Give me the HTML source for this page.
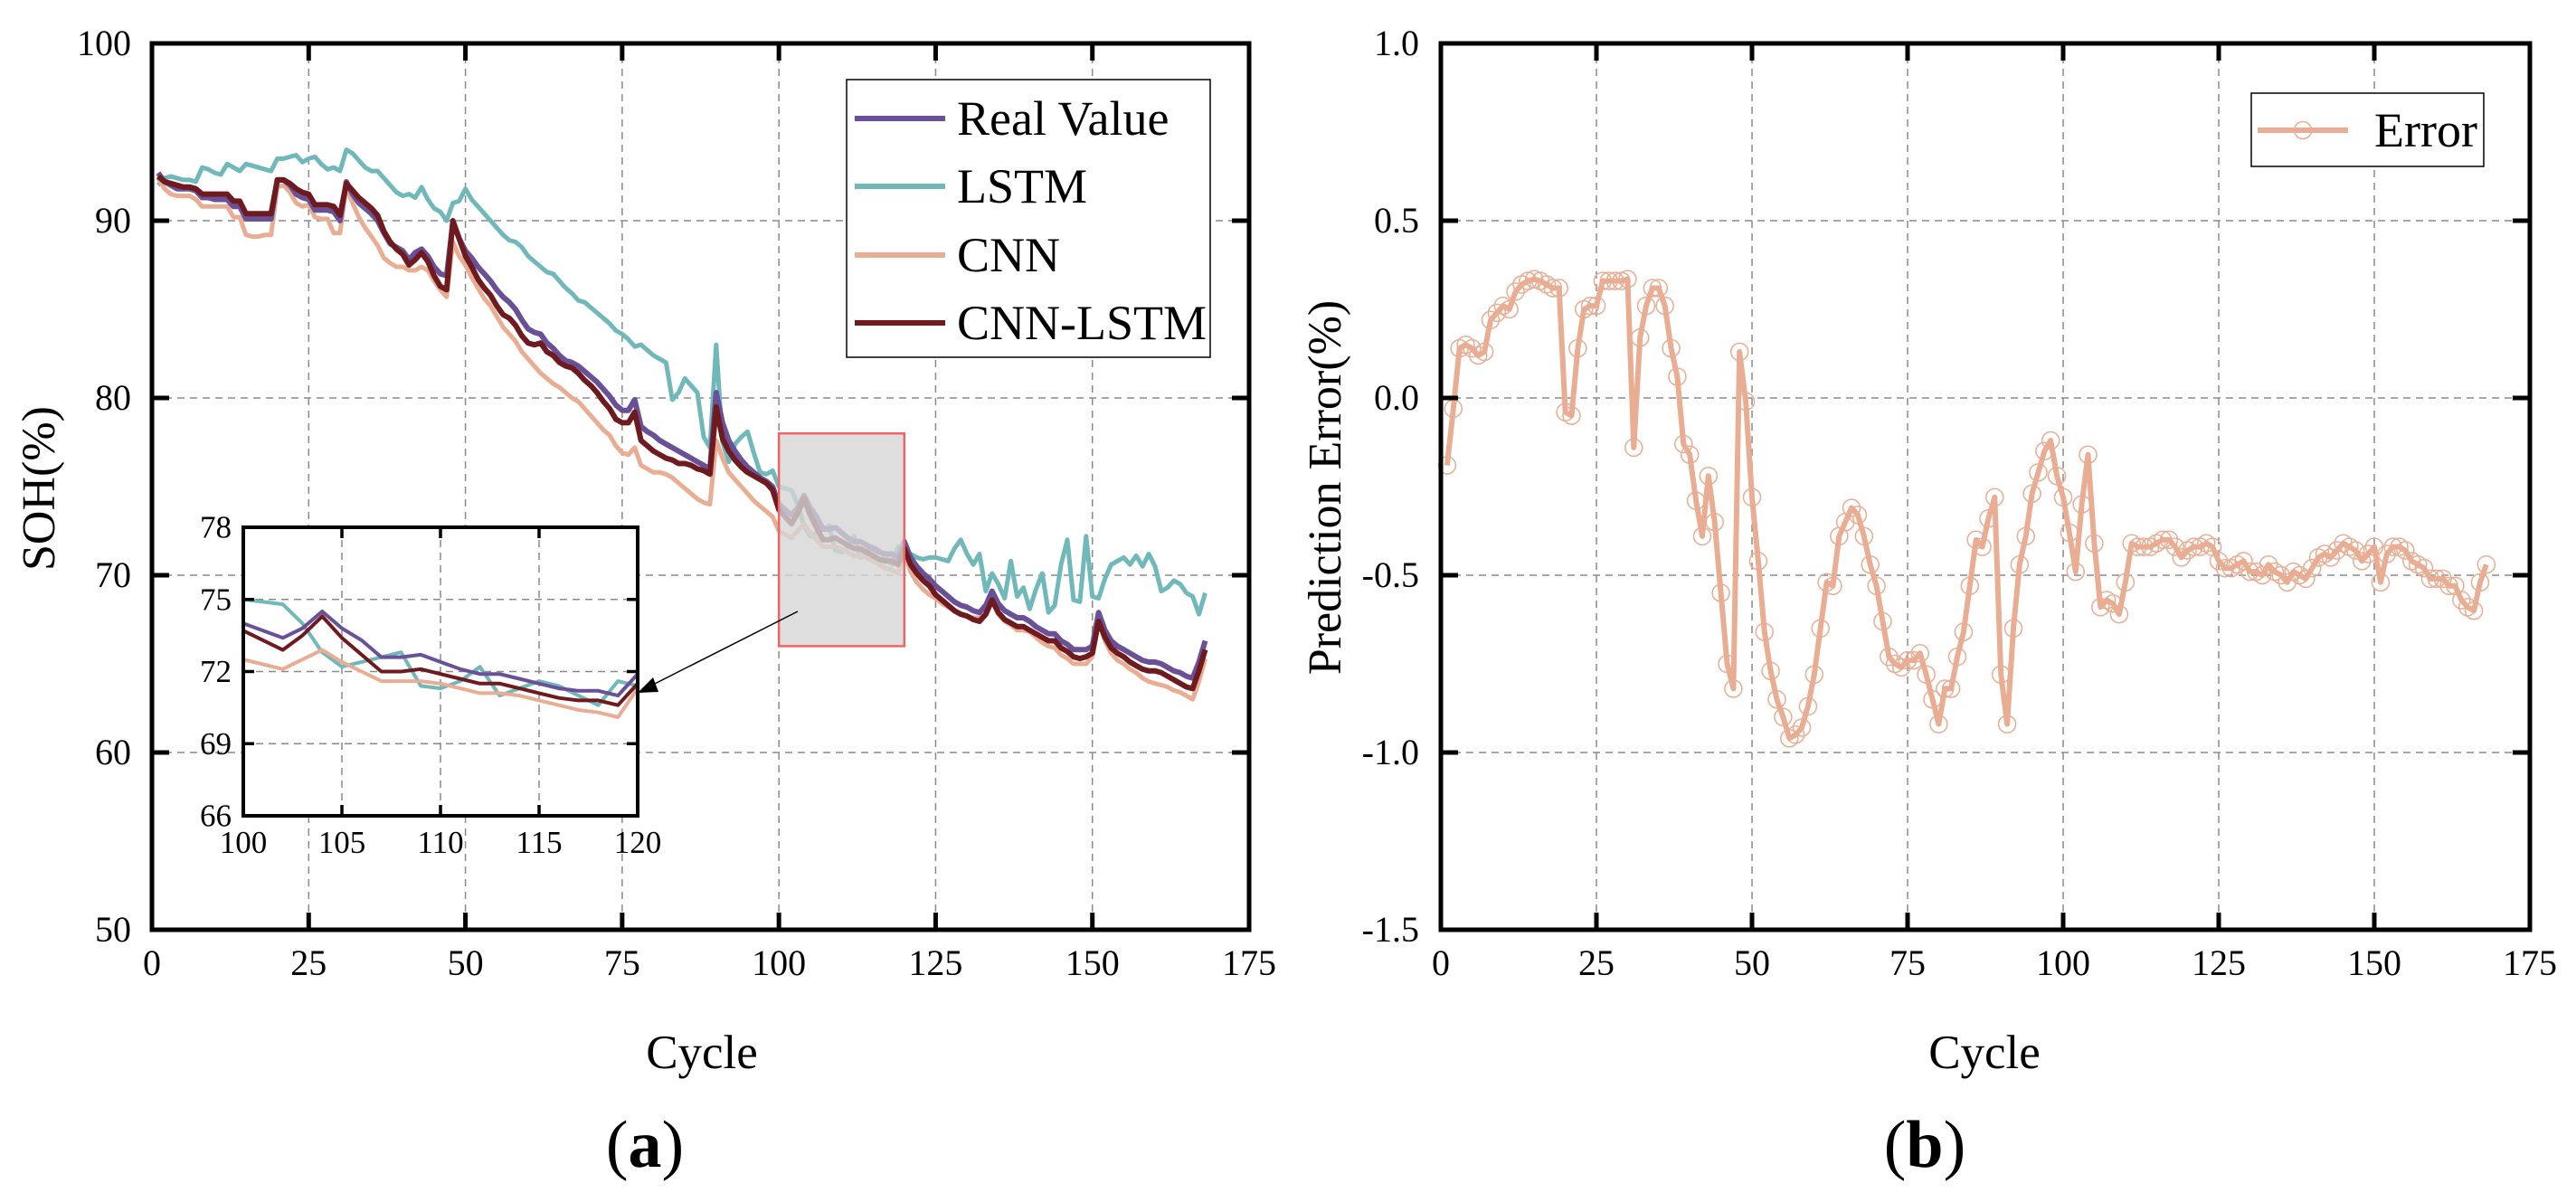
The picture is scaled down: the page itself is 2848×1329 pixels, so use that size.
<!DOCTYPE html>
<html><head><meta charset="utf-8"><style>
html,body{margin:0;padding:0;background:#fff;}
svg{display:block;font-family:"Liberation Serif",serif;}
</style></head><body>
<svg id="fig" width="2848" height="1329" viewBox="0 0 2848 1329" xmlns="http://www.w3.org/2000/svg">
<defs>
<clipPath id="clipA"><rect x="168" y="48" width="1213" height="980"/></clipPath>
<clipPath id="clipIn"><rect x="269" y="583" width="436" height="319"/></clipPath>
<clipPath id="clipB"><rect x="1593" y="48" width="1204" height="980"/></clipPath>
</defs>
<g id="gA"></g>
<g id="gB"></g>
</svg>
<script>
const cycles = Array.from({length:168},(_,i)=>i+1);
const realValue = [92.7,92.2,92.0,91.8,91.8,91.8,91.7,91.3,91.3,91.2,
91.2,91.2,90.8,90.8,90.1,90.1,90.1,90.1,90.1,92.3,
92.3,92.0,91.5,91.3,91.2,90.6,90.6,90.6,90.5,90.0,
92.2,91.5,91.0,90.7,90.4,90.0,89.3,88.7,88.5,88.3,
87.8,88.2,88.4,88.0,87.4,87.0,86.9,89.9,89.0,88.3,
87.9,87.4,87.0,86.6,86.1,85.7,85.4,85.0,84.4,83.9,
83.7,83.6,83.1,82.8,82.4,82.1,82.0,81.8,81.5,81.2,
80.9,80.5,80.1,79.6,79.3,79.3,79.9,78.4,78.1,77.9,
77.6,77.4,77.2,77.0,76.8,76.6,76.4,76.2,76.0,80.3,
78.6,77.6,77.0,76.5,76.1,75.8,75.5,75.3,75.0,74.0,
73.7,73.4,73.8,74.5,73.8,73.3,72.6,72.6,72.7,72.4,
72.1,71.9,71.9,71.7,71.5,71.3,71.2,71.2,71.0,71.9,
71.0,70.5,70.1,69.8,69.4,69.1,68.8,68.5,68.3,68.2,
68.0,67.9,68.3,69.1,68.4,68.0,67.8,67.6,67.6,67.4,
67.1,66.9,66.7,66.7,66.3,66.1,65.8,65.8,65.8,66.0,
67.9,66.9,66.3,66.0,65.8,65.6,65.4,65.2,65.1,65.1,
65.0,64.8,64.6,64.5,64.3,64.2,65.1,66.3];
const lstmValues = [92.0,92.4,92.5,92.4,92.3,92.3,92.2,93.0,92.9,92.7,
92.6,93.2,93.0,92.8,93.2,93.1,93.0,92.9,92.8,93.5,
93.5,93.6,93.7,93.3,93.5,93.6,93.2,92.9,93.0,92.8,
94.0,93.8,93.4,93.0,92.8,92.8,92.4,92.0,91.6,91.4,
91.5,91.3,91.9,91.2,90.7,90.5,90.0,91.0,91.1,91.8,
91.2,90.8,90.4,90.0,89.6,89.2,88.9,88.8,88.5,88.0,
87.7,87.4,87.1,87.0,86.6,86.2,85.9,85.5,85.4,85.1,
84.8,84.5,84.2,83.8,83.6,83.3,82.9,83.0,82.7,82.4,
82.2,82.0,79.9,80.3,81.1,80.7,80.3,77.8,77.2,83.0,
77.5,76.4,77.4,77.8,78.1,76.9,75.8,75.7,75.9,75.0,
74.9,74.8,74.0,72.8,72.2,72.4,72.6,72.8,71.4,71.3,
71.6,72.2,71.0,71.3,71.6,71.4,71.0,70.6,71.6,71.4,
71.2,71.0,70.9,71.0,71.0,70.9,70.8,71.5,72.0,71.2,
70.6,71.2,69.1,70.1,69.5,68.7,70.8,68.8,69.3,68.1,
69.2,70.1,67.9,68.3,70.6,72.0,68.6,68.5,72.2,68.8,
68.7,69.8,70.6,70.8,71.0,70.6,71.1,70.5,71.2,70.5,
69.1,69.3,69.7,69.5,69.0,68.8,67.8,69.0];
const cnnValues = [92.4,91.8,91.5,91.4,91.4,91.4,91.2,90.8,90.8,90.8,
90.8,90.8,90.2,90.2,89.2,89.1,89.1,89.2,89.2,91.9,
92.0,91.6,91.0,90.8,90.9,90.2,90.1,90.1,89.3,89.3,
91.9,91.0,90.2,89.6,89.1,88.6,87.9,87.6,87.4,87.4,
87.2,87.2,87.4,87.2,86.6,86.1,85.7,88.8,88.0,87.5,
86.8,86.2,85.6,85.2,84.6,84.0,83.6,83.2,82.6,82.2,
81.8,81.4,81.1,80.8,80.6,80.3,80.0,79.8,79.4,79.0,
78.6,78.2,77.9,77.3,76.9,76.8,77.2,76.2,76.0,75.8,
75.8,75.7,75.5,75.2,74.9,74.6,74.3,74.1,74.0,77.6,
76.6,75.8,75.4,75.0,74.6,74.2,73.9,73.6,73.3,72.5,
72.3,72.1,72.5,72.9,72.4,72.0,71.6,71.6,71.6,71.5,
71.3,71.1,71.1,71.0,70.8,70.6,70.4,70.3,70.1,71.3,
70.2,69.6,69.2,68.9,68.7,68.4,68.2,68.0,67.8,67.7,
67.6,67.6,67.8,68.5,67.8,67.4,67.2,66.9,66.9,66.8,
66.5,66.2,66.0,65.9,65.5,65.3,65.0,65.0,65.0,65.4,
67.5,66.3,65.6,65.2,65.0,64.7,64.5,64.2,64.0,63.9,
63.8,63.7,63.5,63.4,63.2,63.0,64.0,65.3];
const cnnLstmValues = [92.5,92.2,92.1,92.0,91.9,91.9,91.8,91.5,91.5,91.5,
91.5,91.5,91.1,91.1,90.4,90.4,90.4,90.4,90.4,92.3,
92.3,92.1,91.8,91.6,91.5,90.9,90.9,90.9,90.8,90.3,
92.1,91.7,91.3,91.0,90.7,90.3,89.4,88.8,88.4,88.1,
87.5,87.8,88.2,87.7,86.9,86.3,86.1,90.0,89.0,88.0,
87.4,86.7,86.2,85.8,85.2,84.7,84.5,84.1,83.5,83.1,
83.0,83.1,82.6,82.4,82.0,81.8,81.7,81.4,81.0,80.7,
80.3,79.8,79.4,78.8,78.6,78.6,79.2,77.6,77.3,77.0,
76.8,76.6,76.5,76.3,76.3,76.2,76.0,75.9,75.7,79.5,
77.7,77.0,76.5,76.1,75.8,75.6,75.4,75.2,74.8,73.7,
73.3,72.9,73.5,74.3,73.4,72.7,72.0,72.0,72.1,71.9,
71.7,71.5,71.5,71.3,71.1,70.9,70.8,70.8,70.6,71.5,
70.6,70.1,69.7,69.4,68.9,68.6,68.3,68.0,67.8,67.7,
67.5,67.4,67.8,68.6,67.9,67.5,67.3,67.1,67.1,66.9,
66.7,66.5,66.3,66.3,65.9,65.7,65.4,65.3,65.4,65.6,
67.4,66.5,65.9,65.6,65.4,65.1,64.9,64.7,64.6,64.6,
64.5,64.3,64.1,63.9,63.7,63.6,64.6,65.8];
const errorValues = [-0.19,-0.03,0.14,0.15,0.14,0.12,0.13,0.22,0.24,0.26,
0.25,0.30,0.32,0.33,0.335,0.33,0.32,0.31,0.31,-0.04,
-0.05,0.14,0.25,0.26,0.26,0.33,0.33,0.33,0.33,0.335,
-0.14,0.17,0.26,0.31,0.31,0.26,0.14,0.06,-0.13,-0.16,
-0.29,-0.39,-0.22,-0.35,-0.55,-0.75,-0.82,0.13,-0.01,-0.28,
-0.46,-0.66,-0.77,-0.85,-0.90,-0.96,-0.95,-0.93,-0.87,-0.78,
-0.65,-0.52,-0.53,-0.39,-0.35,-0.31,-0.33,-0.39,-0.47,-0.53,
-0.63,-0.73,-0.75,-0.76,-0.74,-0.74,-0.72,-0.78,-0.85,-0.92,
-0.82,-0.82,-0.73,-0.66,-0.53,-0.40,-0.42,-0.34,-0.28,-0.78,
-0.92,-0.65,-0.47,-0.39,-0.27,-0.21,-0.15,-0.12,-0.22,-0.28,
-0.38,-0.49,-0.30,-0.16,-0.41,-0.59,-0.57,-0.58,-0.61,-0.52,
-0.41,-0.42,-0.42,-0.42,-0.41,-0.40,-0.40,-0.42,-0.45,-0.43,
-0.42,-0.42,-0.41,-0.42,-0.46,-0.48,-0.48,-0.47,-0.46,-0.49,
-0.49,-0.50,-0.47,-0.49,-0.50,-0.52,-0.49,-0.50,-0.51,-0.48,
-0.45,-0.44,-0.45,-0.43,-0.41,-0.42,-0.43,-0.46,-0.44,-0.42,
-0.52,-0.44,-0.42,-0.42,-0.43,-0.46,-0.47,-0.48,-0.51,-0.51,
-0.51,-0.53,-0.53,-0.57,-0.59,-0.60,-0.52,-0.47];
const xTicks = [0,25,50,75,100,125,150,175];
const sohTicks = [50,60,70,80,90,100];
const errTicks = [-1.5,-1.0,-0.5,0.0,0.5,1.0];
const errTickLabels = ["-1.5","-1.0","-0.5","0.0","0.5","1.0"];
const insetXTicks = [100,105,110,115,120];
const insetYTicks = [66,69,72,75,78];
const seriesNames = ["Real Value","LSTM","CNN","CNN-LSTM"];

const NS="http://www.w3.org/2000/svg";
function mk(parent,tag,attrs,text){const e=document.createElementNS(NS,tag);for(const k in attrs)e.setAttribute(k,attrs[k]);if(text!==undefined)e.textContent=text;parent.appendChild(e);return e;}
function lin(d0,d1,r0,r1){return v=>r0+(v-d0)*(r1-r0)/(d1-d0);}

const colors={real:"#6a5197",lstm:"#70b8b9",cnn:"#e8ad92",cl:"#6e1a1f"};

function axesFrame(g,L,T,R,B,xs,ys,xt,yt){
  xt.forEach(v=>{const x=xs(v);if(x>L+2&&x<R-2){const l=mk(g,"line",{x1:x,x2:x,y1:T,y2:B,stroke:"#8a8a8a","stroke-width":1.5,"stroke-dasharray":"8,6"});

}});
  yt.forEach(v=>{const y=ys(v);if(y>T+2&&y<B-2){const l=mk(g,"line",{x1:L,x2:R,y1:y,y2:y,stroke:"#8a8a8a","stroke-width":1.5,"stroke-dasharray":"8,6"});

}});
}
function axesBorder(g,L,T,R,B,xs,ys,xt,yt,ytl,fs,tickLen,lw,tw,xlabY,ylabX,name){
  const r=mk(g,"rect",{x:L,y:T,width:R-L,height:B-T,fill:"none",stroke:"#000","stroke-width":lw});
  
  
  xt.forEach(v=>{const x=xs(v);
    mk(g,"line",{x1:x,x2:x,y1:B,y2:B-tickLen,stroke:"#000","stroke-width":tw});
    mk(g,"line",{x1:x,x2:x,y1:T,y2:T+tickLen,stroke:"#000","stroke-width":tw});
    const t=mk(g,"text",{x:x,y:xlabY,"font-size":fs,"text-anchor":"middle",fill:"#000"},String(v));
    
    
  });
  yt.forEach((v,i)=>{const y=ys(v);
    mk(g,"line",{x1:L,x2:L+tickLen,y1:y,y2:y,stroke:"#000","stroke-width":tw});
    mk(g,"line",{x1:R,x2:R-tickLen,y1:y,y2:y,stroke:"#000","stroke-width":tw});
    const t=mk(g,"text",{x:ylabX,y:y+fs*0.33,"font-size":fs,"text-anchor":"end",fill:"#000"},ytl?ytl[i]:String(v));
    
    
  });
}
function poly(g,xs,ys,xv,yv,color,w,clip,name){
  const pts=xv.map((x,i)=>xs(x).toFixed(1)+","+ys(yv[i]).toFixed(1)).join(" ");
  const p=mk(g,"polyline",{points:pts,fill:"none",stroke:color,"stroke-width":w,"stroke-linejoin":"round","clip-path":"url(#"+clip+")"});
  
  
  return p;
}

// ---------- Chart A ----------
const gA=document.getElementById("gA");
const AL=168,AT=48,AR=1381,AB=1028;
const ax=lin(0,175,AL,AR), ay=lin(50,100,AB,AT);
axesFrame(gA,AL,AT,AR,AB,ax,ay,xTicks,sohTicks);
poly(gA,ax,ay,cycles,lstmValues,colors.lstm,5,"clipA","lstm-line");
poly(gA,ax,ay,cycles,cnnValues,colors.cnn,5,"clipA","cnn-line");
poly(gA,ax,ay,cycles,realValue,colors.real,6,"clipA","real-value-line");
poly(gA,ax,ay,cycles,cnnLstmValues,colors.cl,6,"clipA","cnn-lstm-line");
const zr=mk(gA,"rect",{x:ax(100),y:ay(78),width:ax(120)-ax(100),height:ay(66)-ay(78),fill:"#d6d6d6","fill-opacity":0.8,stroke:"#f06464","stroke-width":2.5});


axesBorder(gA,AL,AT,AR,AB,ax,ay,xTicks,sohTicks,null,40,19,5,5,1078,145,"soh");
// inset
const IL=269,IT=583,IR=705,IB=902;
const ix=lin(100,120,IL,IR), iy=lin(66,78,IB,IT);
const ibg=mk(gA,"rect",{x:IL,y:IT,width:IR-IL,height:IB-IT,fill:"#fff"});


axesFrame(gA,IL,IT,IR,IB,ix,iy,insetXTicks,insetYTicks);
poly(gA,ix,iy,cycles,lstmValues,colors.lstm,4,"clipIn","inset-lstm-line");
poly(gA,ix,iy,cycles,cnnValues,colors.cnn,4,"clipIn","inset-cnn-line");
poly(gA,ix,iy,cycles,realValue,colors.real,4,"clipIn","inset-real-line");
poly(gA,ix,iy,cycles,cnnLstmValues,colors.cl,4,"clipIn","inset-cnn-lstm-line");
axesBorder(gA,IL,IT,IR,IB,ix,iy,insetXTicks,insetYTicks,null,35,12,4,3.5,943,256,"inset");
const arr=mk(gA,"line",{x1:882,y1:676,x2:716,y2:760,stroke:"#000","stroke-width":1.5});


const ah=mk(gA,"polygon",{points:"705,766 722,749 728,765",fill:"#000"});


const lg=mk(gA,"g",{});


mk(lg,"rect",{x:936,y:88,width:402,height:307,fill:"#fff",stroke:"#000","stroke-width":1.5});
const lcols=[colors.real,colors.lstm,colors.cnn,colors.cl];
const lys=[131,206,282,357];
seriesNames.forEach((n,i)=>{
  const e=mk(lg,"g",{});
  
  
  mk(e,"line",{x1:945,x2:1045,y1:lys[i],y2:lys[i],stroke:lcols[i],"stroke-width":6});
  mk(e,"text",{x:1058,y:lys[i]+18,"font-size":54,fill:"#000"},n);
});
const yA=mk(gA,"text",{x:0,y:0,"font-size":52,"text-anchor":"middle",transform:"translate(60,540) rotate(-90)"},"SOH(%)");


const xA=mk(gA,"text",{x:776,y:1181,"font-size":53,"text-anchor":"middle"},"Cycle");


const capA=mk(gA,"text",{x:713,y:1290,"font-size":74,"text-anchor":"middle"});


mk(capA,"tspan",{},"(");mk(capA,"tspan",{"font-weight":"bold"},"a");mk(capA,"tspan",{},")");

// ---------- Chart B ----------
const gB=document.getElementById("gB");
const BL=1593,BT=48,BR=2797,BB=1028;
const bx=lin(0,175,BL,BR), by=lin(-1.5,1.0,BB,BT);
axesFrame(gB,BL,BT,BR,BB,bx,by,xTicks,errTicks);
poly(gB,bx,by,cycles,errorValues,colors.cnn,6,"clipB","error-line");
cycles.forEach((c,i)=>{
  const m=mk(gB,"circle",{cx:bx(c),cy:by(errorValues[i]),r:9.5,fill:"none",stroke:colors.cnn,"stroke-width":1.5});
  
  
});
axesBorder(gB,BL,BT,BR,BB,bx,by,xTicks,errTicks,errTickLabels,40,19,5,5,1078,1569,"error");
const lgB=mk(gB,"g",{});


mk(lgB,"rect",{x:2489,y:103,width:257,height:81,fill:"#fff",stroke:"#000","stroke-width":1.5});
mk(lgB,"line",{x1:2496,x2:2596,y1:144,y2:144,stroke:colors.cnn,"stroke-width":6});
mk(lgB,"circle",{cx:2546,cy:144,r:9.5,fill:"none",stroke:colors.cnn,"stroke-width":1.5});
mk(lgB,"text",{x:2625,y:162,"font-size":54},"Error");
const yB=mk(gB,"text",{x:0,y:0,"font-size":52,"text-anchor":"middle",transform:"translate(1482,539) rotate(-90)"},"Prediction Error(%)");


const xB=mk(gB,"text",{x:2194,y:1181,"font-size":53,"text-anchor":"middle"},"Cycle");


const capB=mk(gB,"text",{x:2128,y:1290,"font-size":74,"text-anchor":"middle"});


mk(capB,"tspan",{},"(");mk(capB,"tspan",{"font-weight":"bold"},"b");mk(capB,"tspan",{},")");
</script>
</body></html>
